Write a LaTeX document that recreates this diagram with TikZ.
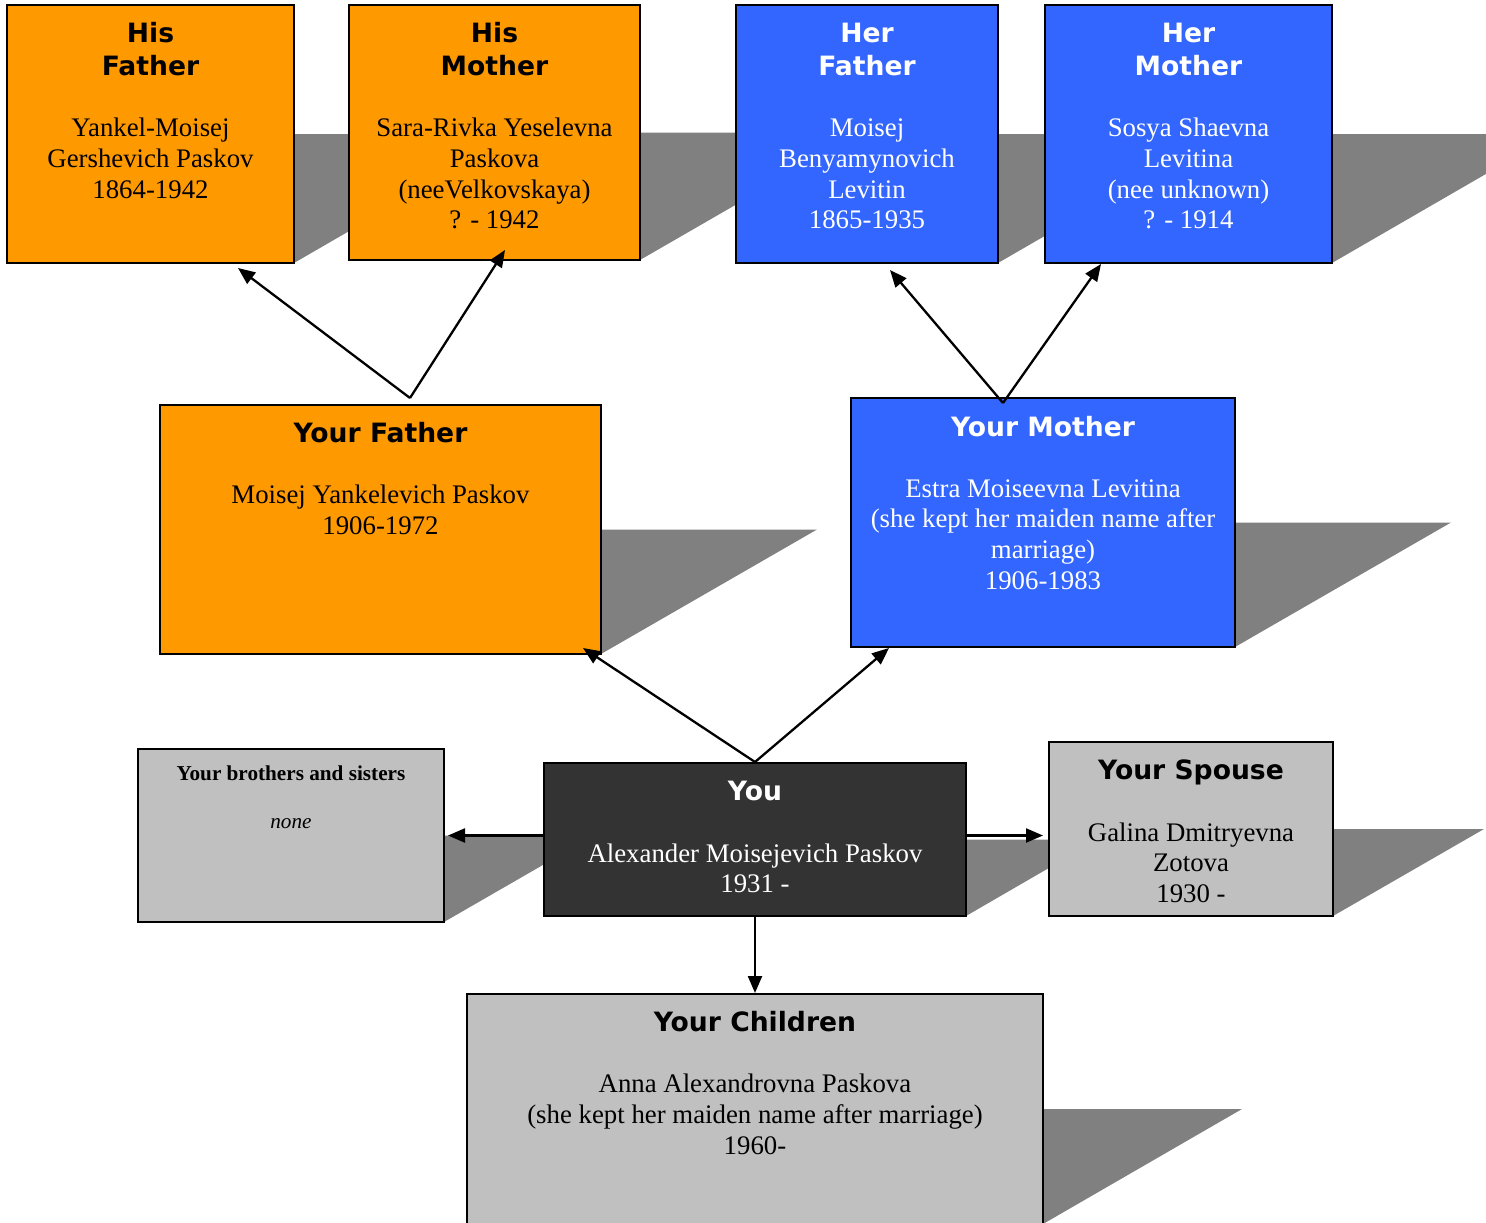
\documentclass[tikz,border=0pt]{standalone}
\usepackage{fontspec}
\setmainfont{Liberation Serif}
\newfontfamily\headfont{DejaVu Sans}
\usetikzlibrary{arrows.meta,calc,backgrounds}
\definecolor{orng}{HTML}{FF9900}
\definecolor{blu}{HTML}{3366FF}
\definecolor{lgry}{HTML}{C0C0C0}
\definecolor{dgry}{HTML}{333333}
\definecolor{shd}{HTML}{808080}
\tikzset{
  box/.style={draw=black, line width=1.5pt, inner sep=0pt, outer sep=0pt},
  hd/.style={anchor=north, inner sep=0pt, align=center,
    font=\headfont\bfseries\fontsize{26.6}{33}\selectfont},
  bd/.style={anchor=north, inner sep=0pt, align=center,
    font=\fontsize{26.8}{30.7}\selectfont},
  sibhd/.style={anchor=north, inner sep=0pt, align=center,
    font=\bfseries\fontsize{21.2}{24}\selectfont},
  sibbd/.style={anchor=north, inner sep=0pt, align=center,
    font=\itshape\fontsize{21.2}{24}\selectfont},
  arr/.style={-{Triangle[length=17pt,width=14pt]}, line width=2.3pt, draw=black},
  shadowfill/.style={fill=shd}
}
\newcommand\rl{\rule{0pt}{24pt}}
\newcommand\dropshade[2]{\fill[shadowfill] (#1.east) -- ($(#1.east)+(#2,0)$) -- (#1.south east) -- cycle;}
\begin{document}
\begin{tikzpicture}[x=1pt,y=-1pt]
\useasboundingbox (0,0) rectangle (1486,1223);
\clip (0,0) rectangle (1486,1223);
% boxes
\node[box, fill=orng, minimum width=287pt, minimum height=258pt] (hf) at (150.5,134) {};
\node[box, fill=orng, minimum width=291pt, minimum height=255pt] (hm) at (494.5,132.5) {};
\node[box, fill=blu, minimum width=262pt, minimum height=258pt] (rf) at (867,134) {};
\node[box, fill=blu, minimum width=287pt, minimum height=258pt] (rm) at (1188.5,134) {};
\node[box, fill=orng, minimum width=441pt, minimum height=249pt] (yf) at (380.5,529.5) {};
\node[box, fill=blu, minimum width=384pt, minimum height=249pt] (ym) at (1043,522.5) {};
\node[box, fill=dgry, minimum width=422pt, minimum height=153pt] (you) at (755,839.5) {};
\node[box, fill=lgry, minimum width=306pt, minimum height=173pt] (sib) at (291,835.5) {};
\node[box, fill=lgry, minimum width=284pt, minimum height=174pt] (sp) at (1191,829) {};
\node[box, fill=lgry, minimum width=576pt, minimum height=230pt] (ch) at (755,1109) {};
% shadows
\begin{scope}[on background layer]
\dropshade{hf}{223}
\dropshade{hm}{221}
\dropshade{rf}{223}
\dropshade{rm}{223}
\dropshade{yf}{216}
\dropshade{ym}{216}
\dropshade{you}{132}
\dropshade{sib}{150}
\dropshade{sp}{151}
\dropshade{ch}{199}
\end{scope}
% texts
\node[hd] (hf-h) at ($(hf.north)+(0,13)$) {\rl His\\Father};
\node[bd] (hf-b) at ($(hf.north)+(0,107.5)$) {\rl Yankel-Moisej\\Gershevich Paskov\\1864-1942};
\node[hd] (hm-h) at ($(hm.north)+(0,13)$) {\rl His\\Mother};
\node[bd] (hm-b) at ($(hm.north)+(0,107.5)$) {\rl Sara-Rivka Yeselevna\\Paskova\\(neeVelkovskaya)\\? - 1942};
\node[hd, text=white] (rf-h) at ($(rf.north)+(0,13)$) {\rl Her\\Father};
\node[bd, text=white] (rf-b) at ($(rf.north)+(0,107.5)$) {\rl Moisej\\Benyamynovich\\Levitin\\1865-1935};
\node[hd, text=white] (rm-h) at ($(rm.north)+(0,13)$) {\rl Her\\Mother};
\node[bd, text=white] (rm-b) at ($(rm.north)+(0,107.5)$) {\rl Sosya Shaevna\\Levitina\\(nee unknown)\\? - 1914};
\node[hd] (yf-h) at ($(yf.north)+(0,13.5)$) {\rl Your Father};
\node[bd] (yf-b) at ($(yf.north)+(0,74.5)$) {\rl Moisej Yankelevich Paskov\\1906-1972};
\node[hd, text=white] (ym-h) at ($(ym.north)+(0,14)$) {\rl Your Mother};
\node[bd, text=white] (ym-b) at ($(ym.north)+(0,75)$) {\rl Estra Moiseevna Levitina\\(she kept her maiden name after\\marriage)\\1906-1983};
\node[hd, text=white] (you-h) at ($(you.north)+(0,13)$) {\rl You};
\node[bd, text=white] (you-b) at ($(you.north)+(0,75)$) {\rl Alexander Moisejevich Paskov\\1931 -};
\node[sibhd] (sib-h) at ($(sib.north)+(0,12)$) {\rule{0pt}{19pt}Your brothers and sisters};
\node[sibbd] (sib-b) at ($(sib.north)+(0,60)$) {\rule{0pt}{19pt}none};
\node[hd] (sp-h) at ($(sp.north)+(0,13.5)$) {\rl Your Spouse};
\node[bd] (sp-b) at ($(sp.north)+(0,75)$) {\rl Galina Dmitryevna\\Zotova\\1930 -};
\node[hd] (ch-h) at ($(ch.north)+(0,13)$) {\rl Your Children};
\node[bd] (ch-b) at ($(ch.north)+(0,74.5)$) {\rl Anna Alexandrovna Paskova\\(she kept her maiden name after marriage)\\1960-};
% connector points
\coordinate (yfa) at ($(yf.north)+(29.5,-7)$);
\coordinate (hft) at ($(hf.south)+(87.5,5)$);
\coordinate (hmt) at ($(hm.south)+(10.5,-10)$);
\coordinate (yma) at ($(ym.north)+(-40,5)$);
\coordinate (rft) at ($(rf.south)+(23,7)$);
\coordinate (rmt) at ($(rm.south)+(-87.5,1)$);
\coordinate (youa) at ($(you.north)+(0,-1)$);
\coordinate (yft) at ($(yf.south east)+(-18,-6)$);
\coordinate (ymt) at ($(ym.south west)+(38,1)$);
\coordinate (youl) at ($(you.west)+(0,-4)$);
\coordinate (sibt) at ($(sib.east)+(4,0)$);
\coordinate (your) at ($(you.east)+(0,-4)$);
\coordinate (spt) at ($(sp.west)+(-6,6.5)$);
\coordinate (cht) at ($(ch.north)+(0,-1)$);
% connectors
\draw[arr] (yfa) -- (hft);
\draw[arr] (yfa) -- (hmt);
\draw[arr] (yma) -- (rft);
\draw[arr] (yma) -- (rmt);
\draw[arr] (youa) -- (yft);
\draw[arr] (youa) -- (ymt);
\draw[arr] (youl) -- (sibt);
\draw[arr] (your) -- (spt);
\draw[arr] (you.south) -- (cht);
\end{tikzpicture}
\end{document}
